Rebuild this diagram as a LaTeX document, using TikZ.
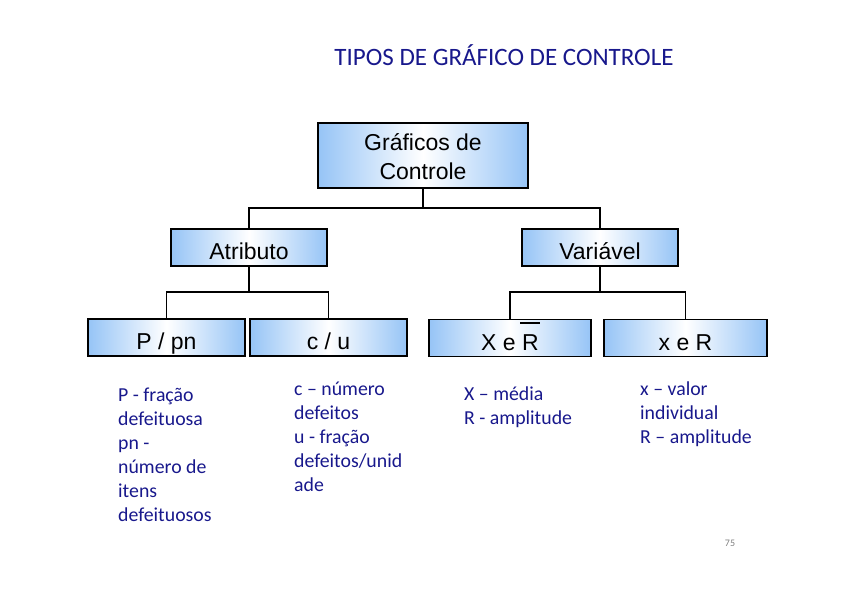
\documentclass[tikz,border=0pt]{standalone}
\usepackage{fontspec}
\setmainfont{Carlito}
\newfontfamily\boxfont{Liberation Sans}
\usetikzlibrary{positioning}
\definecolor{navy}{RGB}{24,24,140}
\definecolor{boxblue}{RGB}{150,196,246}
\begin{document}
\begin{tikzpicture}[x=1pt,y=-1pt,
  cbox/.style={draw=black, line width=1.8pt, left color=boxblue, right color=boxblue, middle color=white,
    font=\boxfont\fontsize{23}{29}\selectfont, inner sep=0pt, minimum height=37pt,
    text height=24pt, text depth=0pt},
  conn/.style={line width=1.6pt},
  thin/.style={line width=1.1pt},
  body/.style={font=\fontsize{19.8}{24}\selectfont, text=navy, align=left, anchor=north west, inner sep=0pt}]
\useasboundingbox (0,0) rectangle (842,595);
\node[font=\fontsize{25}{30}\selectfont, text=navy] (title) at (504,55) {TIPOS DE GRÁFICO DE CONTROLE};
\node[cbox, align=center, minimum width=210pt, minimum height=65pt, text height=47pt] (top) at (423,155.8) {Gráficos de\\Controle};
\node[cbox, minimum width=156pt] (atr) at (249,247.5) {Atributo};
\node[cbox, minimum width=156pt] (var) at (600,247.5) {Variável};
\node[cbox, minimum width=157pt] (p) at (166.5,337.5) {P / pn};
\node[cbox, minimum width=157pt] (c) at (328.5,337.5) {c / u};
\node[cbox, minimum width=162pt] (xb) at (510,338) {X e \rlap{\hspace{-2pt}\raisebox{25.7pt}{\rule{20pt}{2.7pt}}}R};
\node[cbox, minimum width=163pt] (x) at (685.5,338) {x e R};
\coordinate (j1) at (423,208);
\coordinate (j2) at (249,292);
\coordinate (j3) at (600,292);
\draw[conn] (top.south) -- (j1);
\draw[conn] (atr.north) |- (j1) -| (var.north);
\draw[conn] (atr.south) -- (j2);
\draw[conn] (var.south) -- (j3);
\draw[thin] (p.north) |- (j2) -| (c.north);
\draw[thin] (xb.north) |- (j3) -| (x.north);
\node[body] (t1) at (118,388) {P - fração\\defeituosa\\pn -\\número de\\itens\\defeituosos};
\node[body] (t2) at (294,382) {c – número\\defeitos\\u - fração\\defeitos/unid\\ade};
\node[body] (t3) at (464,387) {X – média\\R - amplitude};
\node[body] (t4) at (640,382) {x – valor\\individual\\R – amplitude};
\node[font=\fontsize{10}{12}\selectfont, text=gray] (pg) at (730,543) {75};
\end{tikzpicture}
\end{document}
